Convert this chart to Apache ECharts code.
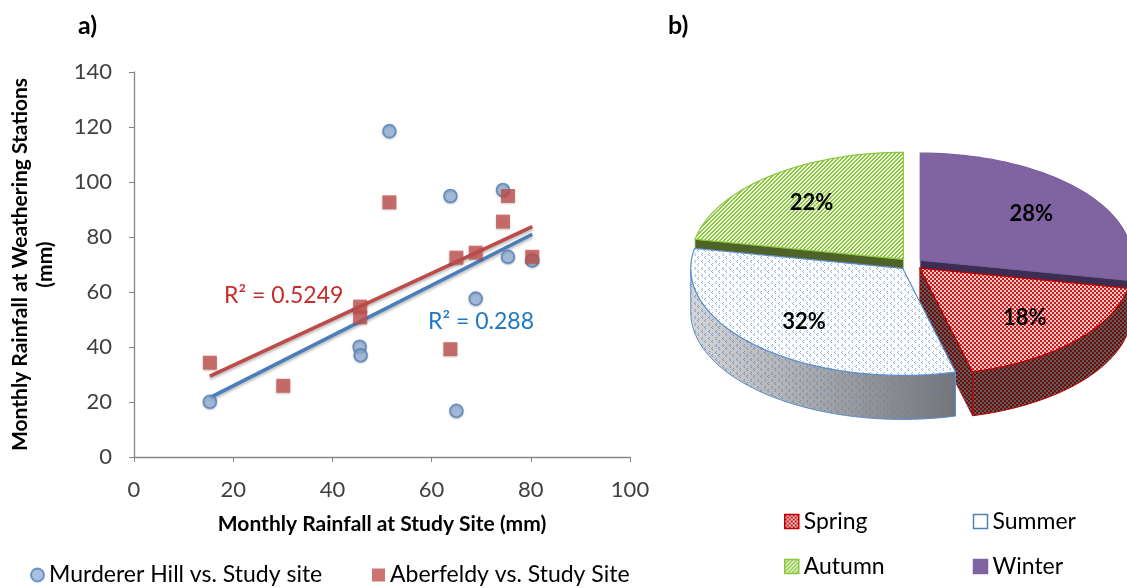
<!DOCTYPE html>
<html><head><meta charset="utf-8">
<script src="https://cdn.jsdelivr.net/npm/echarts@6/dist/echarts.min.js"></script>
<style>html,body{margin:0;padding:0;background:#fff}#c{width:1127px;height:588px}</style>
</head><body><div id="c"></div>
<script>
// ---------- data: panel a) ----------
const murdererX = [15.3, 45.5, 45.7, 51.5, 63.8, 65.0, 68.9, 74.4, 75.4, 80.3];
const murdererY = [20.1, 40.1, 37.0, 118.5, 94.9, 16.8, 57.6, 97.1, 72.8, 71.5];
const aberX = [15.3, 30.1, 45.6, 45.6, 51.5, 63.8, 65.0, 68.9, 74.4, 75.4, 80.3];
const aberY = [34.3, 25.9, 54.7, 50.8, 92.6, 39.2, 72.5, 74.3, 85.6, 94.9, 72.8];
const trendMurdererX = [15.3, 80.3];
const trendMurdererY = [21.6, 81.0];
const trendAberX = [15.3, 80.3];
const trendAberY = [29.4, 83.8];
const r2Murderer = 'R² = 0.288';
const r2Aber = 'R² = 0.5249';
const seriesNames = ['Murderer Hill vs. Study site', 'Aberfeldy vs. Study Site'];
// ---------- data: panel b) (clockwise from 12 o'clock) ----------
const seasons = ['Winter', 'Spring', 'Summer', 'Autumn'];
const seasonShare = [28, 18, 32, 22];
const legendOrder = ['Spring', 'Summer', 'Autumn', 'Winter'];

const FONT = 'Lato, "Open Sans", sans-serif';

function pat(w, h, draw) {
  const c = document.createElement('canvas'); c.width = w; c.height = h;
  const g = c.getContext('2d'); draw(g); return { image: c, repeat: 'repeat' };
}
const springTop = pat(4, 4, g => { g.fillStyle = '#F6C8C8'; g.fillRect(0,0,4,4); g.fillStyle = '#C81A1A'; g.fillRect(0,0,2,2); g.fillRect(2,2,2,2); });
const springSide = pat(4, 4, g => { g.fillStyle = '#5e5e5e'; g.fillRect(0,0,4,4); g.fillStyle = '#700c0c'; g.fillRect(0,0,2,2); g.fillRect(2,2,2,2); });
const summerTop = pat(7, 7, g => { g.fillStyle = '#ffffff'; g.fillRect(0,0,7,7); g.fillStyle = '#8FB2DE'; g.fillRect(2,1,1,1); g.fillRect(1,2,1,1); g.fillRect(2,3,1,1); g.fillRect(5,4,1,1); g.fillRect(4,5,1,1); g.fillRect(5,6,1,1); });
const summerMarks = pat(7, 7, g => { g.fillStyle = 'rgba(90,130,200,0.75)'; g.fillRect(2,1,1,1); g.fillRect(1,2,1,1); g.fillRect(2,3,1,1); g.fillRect(5,4,1,1); g.fillRect(4,5,1,1); g.fillRect(5,6,1,1); });
const autumnTop = pat(4, 4, g => { g.fillStyle = '#EEF7E2'; g.fillRect(0,0,4,4); g.fillStyle = '#8DC63F'; for (let i = 0; i < 4; i++) { g.fillRect(i, 3 - i, 1, 1); g.fillRect(i, (4 - i) % 4, 1, 1); } });

const styles = {
  Winter: { top: '#8064A2', side: '#5F497A', radial: '#3B2E52', stroke: '#7A5E9C', legend: '#8064A2', lborder: '#8064A2' },
  Spring: { top: springTop, side: springSide, radial: springSide, stroke: '#C00000', legend: springTop, lborder: '#C00000' },
  Summer: { top: summerTop, side: new echarts.graphic.LinearGradient(0,0,1,0,[{offset:0,color:'#D6D6D6'},{offset:1,color:'#747474'}]), overlay: summerMarks, radial: '#9a9a9a', stroke: '#5B8FCF', legend: '#ffffff', lborder: '#4F81BD' },
  Autumn: { top: autumnTop, side: '#4F6228', radial: '#4F6228', stroke: '#8CC63F', legend: autumnTop, lborder: '#8CC63F' }
};

const CX = 911, CY = 264, RX = 212, RY = 107, DEPTH = 44, EXP = 12;
const total = seasonShare.reduce((a, b) => a + b, 0);
const cum = [0]; seasonShare.forEach(v => cum.push(cum[cum.length - 1] + v));

function pt(cx, cy, a, dz) { return [cx + RX * Math.sin(a), cy - RY * Math.cos(a) + (dz || 0)]; }
function arc(cx, cy, a0, a1, dz) {
  const n = Math.max(2, Math.ceil((a1 - a0) / (Math.PI / 90)));
  const out = [];
  for (let k = 0; k <= n; k++) out.push(pt(cx, cy, a0 + (a1 - a0) * k / n, dz));
  return out;
}

function sliceRenderer(i) {
  return function (params, api) {
    const name = seasons[i], st = styles[name];
    const a0 = cum[i] / total * 2 * Math.PI, a1 = cum[i + 1] / total * 2 * Math.PI, m = (a0 + a1) / 2;
    const cx = CX + EXP * Math.sin(m), cy = CY - EXP * Math.cos(m) * RY / RX;
    const ch = [];
    const radial = a => {
      const p = pt(cx, cy, a), pb = pt(cx, cy, a, DEPTH);
      ch.push({ type: 'polygon', shape: { points: [[cx, cy], p, pb, [cx, cy + DEPTH]] }, style: { fill: st.radial, stroke: st.stroke, lineWidth: 0.6 } });
    };
    if (Math.sin(a0) < -1e-6) radial(a0);
    if (Math.sin(a1) > 1e-6) radial(a1);
    const s0 = Math.max(a0, Math.PI / 2), s1 = Math.min(a1, 3 * Math.PI / 2);
    if (s1 > s0) {
      const pts = arc(cx, cy, s0, s1, 0).concat(arc(cx, cy, s0, s1, DEPTH).reverse());
      ch.push({ type: 'polygon', shape: { points: pts }, style: { fill: st.side, stroke: st.stroke, lineWidth: 1 } });
      if (st.overlay) ch.push({ type: 'polygon', shape: { points: pts }, style: { fill: st.overlay } });
    }
    const topPts = [[cx, cy]].concat(arc(cx, cy, a0, a1, 0));
    ch.push({ type: 'polygon', shape: { points: topPts }, style: { fill: st.top, stroke: st.stroke, lineWidth: 1.2 } });
    const lp = [cx + 0.68 * RX * Math.sin(m), cy - 0.68 * RY * Math.cos(m)];
    ch.push({ type: 'text', style: { text: api.value(0) + '%', x: lp[0], y: lp[1], font: 'bold 22px ' + FONT, fill: '#000', align: 'center', verticalAlign: 'middle', textAlign: 'center', textVerticalAlign: 'middle' } });
    return { type: 'group', children: ch };
  };
}

const drawOrder = [0, 3, 1, 2];
const pieSeries = drawOrder.map((i, k) => ({
  type: 'custom', name: seasons[i], coordinateSystem: 'none', z: 2 + k,
  data: [[seasonShare[i]]], renderItem: sliceRenderer(i),
  itemStyle: { color: styles[seasons[i]].legend, borderColor: styles[seasons[i]].lborder, borderWidth: 1.5 }
}));

const chart = echarts.init(document.getElementById('c'), null, { renderer: 'canvas' });
chart.setOption({
  animation: false,
  backgroundColor: '#ffffff',
  textStyle: { fontFamily: FONT },
  title: [
    { text: 'a)', left: 73, top: 8, textStyle: { fontSize: 25, fontWeight: 'bold', color: '#000', fontFamily: FONT } },
    { text: 'b)', left: 663, top: 8, textStyle: { fontSize: 25, fontWeight: 'bold', color: '#000', fontFamily: FONT } }
  ],
  grid: { left: 134, top: 72, width: 496, height: 385 },
  xAxis: {
    type: 'value', min: 0, max: 100, interval: 20,
    name: 'Monthly Rainfall at Study Site (mm)', nameLocation: 'middle', nameGap: 57,
    nameTextStyle: { fontSize: 21, fontWeight: 'bold', color: '#000', fontFamily: FONT },
    axisLine: { show: true, lineStyle: { color: '#868686', width: 1.3 } },
    axisTick: { show: true, length: 5, lineStyle: { color: '#868686' } },
    axisLabel: { fontSize: 22, color: '#404040', margin: 22, fontFamily: FONT },
    splitLine: { show: false }
  },
  yAxis: {
    type: 'value', min: 0, max: 140, interval: 20,
    name: 'Monthly Rainfall at Weathering Stations\n(mm)', nameLocation: 'middle', nameGap: 76,
    nameTextStyle: { fontSize: 21, fontWeight: 'bold', color: '#000', lineHeight: 25, fontFamily: FONT },
    axisLine: { show: true, lineStyle: { color: '#868686', width: 1.3 } },
    axisTick: { show: true, length: 5, lineStyle: { color: '#868686' } },
    axisLabel: { fontSize: 22, color: '#404040', margin: 22, fontFamily: FONT },
    splitLine: { show: false }
  },
  legend: [
    {
      left: 25, top: 558, itemWidth: 13, itemHeight: 13, itemGap: 10,
      data: [
        { name: seriesNames[0], icon: 'circle', textStyle: { width: 313 } },
        { name: seriesNames[1], icon: 'rect' }
      ],
      textStyle: { fontSize: 23, color: '#000', lineHeight: 24, fontFamily: FONT }
    },
    {
      left: 779, top: 499, width: 380, itemWidth: 14, itemHeight: 14, itemGap: 10, icon: 'rect',
      data: legendOrder.map(n => ({ name: n, itemStyle: { color: styles[n].legend, borderColor: styles[n].lborder, borderWidth: 1.5 } })),
      textStyle: { fontSize: 23, color: '#000', width: 159, lineHeight: 35, fontFamily: FONT }
    }
  ],
  graphic: [
    { type: 'text', left: 224, top: 284, style: { text: r2Aber, font: '23px ' + FONT, fill: '#C62D2A' } },
    { type: 'text', left: 428, top: 310, style: { text: r2Murderer, font: '23px ' + FONT, fill: '#1F78C1' } }
  ],
  series: [
    {
      type: 'line', name: 'trendM', data: trendMurdererX.map((x, i) => [x, trendMurdererY[i]]),
      showSymbol: false, z: 2, silent: true,
      lineStyle: { color: '#4A7EBB', width: 3.5, shadowColor: 'rgba(0,0,0,0.3)', shadowBlur: 3, shadowOffsetY: 2 }
    },
    {
      type: 'line', name: 'trendA', data: trendAberX.map((x, i) => [x, trendAberY[i]]),
      showSymbol: false, z: 2, silent: true,
      lineStyle: { color: '#BE4B48', width: 3.5, shadowColor: 'rgba(0,0,0,0.3)', shadowBlur: 3, shadowOffsetY: 2 }
    },
    {
      type: 'scatter', name: seriesNames[0], data: murdererX.map((x, i) => [x, murdererY[i]]),
      symbol: 'circle', symbolSize: 13, z: 3,
      itemStyle: { color: '#95B3D7', borderColor: '#4F81BD', borderWidth: 1.6, shadowColor: 'rgba(0,0,0,0.25)', shadowBlur: 2, shadowOffsetY: 1 }
    },
    {
      type: 'scatter', name: seriesNames[1], data: aberX.map((x, i) => [x, aberY[i]]),
      symbol: 'rect', symbolSize: 14, z: 4,
      itemStyle: { color: '#C0504D', shadowColor: 'rgba(0,0,0,0.25)', shadowBlur: 2, shadowOffsetY: 1 }
    }
  ].concat(pieSeries)
});
</script></body></html>
